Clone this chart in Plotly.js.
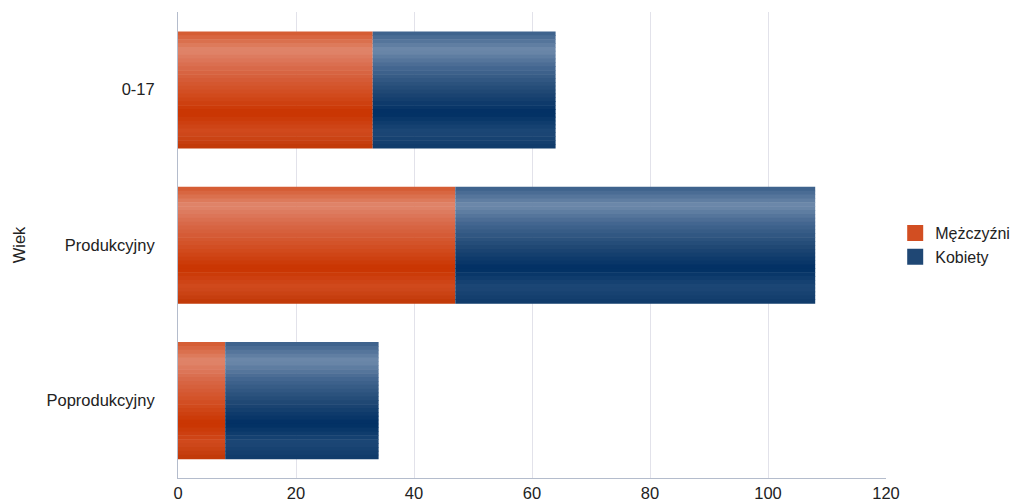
<!DOCTYPE html>
<html>
<head>
<meta charset="utf-8">
<script src="https://cdn.plot.ly/plotly-3.0.1.min.js"></script>
<style>html,body{margin:0;padding:0;background:#fff;}#chart{width:1017px;height:502px;}</style>
</head>
<body>
<div id="chart"></div>
<script>
// Data
const categories = ['0-17', 'Produkcyjny', 'Poprodukcyjny'];
const men = [33, 47, 8];
const women = [31, 61, 26];
const seriesNames = ['Mężczyźni', 'Kobiety'];

// Style: vertical gradient stops (fraction from top, colour)
const menStops = [[0, [212, 88, 46]], [0.16, [224, 134, 108]], [0.32, [216, 104, 72]], [0.52, [210, 78, 34]], [0.7, [201, 52, 0]], [0.86, [208, 74, 30]], [1, [192, 56, 6]]];
const womenStops = [[0, [58, 95, 138]], [0.16, [110, 138, 171]], [0.32, [66, 101, 143]], [0.52, [31, 71, 116]], [0.7, [0, 47, 99]], [0.86, [29, 71, 118]], [1, [15, 58, 106]]];
const legendColors = ['rgb(210,78,34)', 'rgb(31,71,116)'];

function colorAt(stops, t) {
  for (let i = 0; i < stops.length - 1; i++) {
    const a = stops[i], b = stops[i + 1];
    if (t >= a[0] && t <= b[0]) {
      const f = (t - a[0]) / (b[0] - a[0]);
      const c = a[1].map((v, k) => Math.round(v + (b[1][k] - v) * f));
      return 'rgb(' + c.join(',') + ')';
    }
  }
  const l = stops[stops.length - 1][1];
  return 'rgb(' + l.join(',') + ')';
}

const barWidth = 0.75;
const N = 30;
const band = barWidth / N;
const traces = [];

function addSeries(values, bases, stops, name) {
  for (let i = 0; i < N; i++) {
    const t = (i + 0.5) / N;
    traces.push({
      type: 'bar',
      orientation: 'h',
      y: categories,
      x: values,
      base: bases,
      width: band * 1.15,
      offset: -barWidth / 2 + i * band,
      marker: {color: colorAt(stops, t), line: {width: 0}},
      name: name,
      showlegend: false,
      legendgroup: name,
      hoverinfo: 'skip'
    });
  }
}
addSeries(men, men.map(() => 0), menStops, seriesNames[0]);
addSeries(women, men, womenStops, seriesNames[1]);

// legend entries
seriesNames.forEach((nm, k) => {
  traces.push({
    type: 'scatter',
    mode: 'markers',
    x: [null],
    y: [null],
    name: nm,
    legendgroup: nm,
    showlegend: true,
    marker: {symbol: 'square', size: 16, color: legendColors[k]},
    hoverinfo: 'skip'
  });
});

const FS = 16.5;
const layout = {
  width: 1017,
  height: 502,
  margin: {l: 178, r: 131, t: 12, b: 24, autoexpand: false},
  paper_bgcolor: '#fff',
  plot_bgcolor: '#fff',
  barmode: 'overlay',
  font: {family: 'Liberation Sans, Arial, sans-serif', size: FS, color: '#222'},
  xaxis: {
    range: [0, 120],
    dtick: 20,
    showgrid: true,
    gridcolor: '#e2e2ea',
    gridwidth: 1,
    zeroline: false,
    showline: true,
    linecolor: '#b4bccc',
    linewidth: 1,
    ticks: '',
    tickfont: {size: FS, color: '#222'},
    automargin: false,
    fixedrange: true
  },
  yaxis: {
    type: 'category',
    autorange: 'reversed',
    showgrid: false,
    zeroline: false,
    showline: true,
    linecolor: '#b4bccc',
    linewidth: 1,
    ticks: 'outside',
    ticklen: 19,
    tickcolor: 'rgba(0,0,0,0)',
    tickfont: {size: FS, color: '#222'},
    title: {text: 'Wiek', font: {size: FS, color: '#222'}, standoff: 16},
    automargin: false,
    fixedrange: true
  },
  legend: {
    x: 1.013,
    y: 0.5,
    xanchor: 'left',
    yanchor: 'middle',
    font: {size: 16, color: '#222'},
    itemwidth: 30,
    itemsizing: 'trace',
    tracegroupgap: 0,
    bgcolor: 'rgba(0,0,0,0)'
  },
  showlegend: true
};

Plotly.newPlot('chart', traces, layout, {displayModeBar: false, staticPlot: true});
</script>
</body>
</html>
